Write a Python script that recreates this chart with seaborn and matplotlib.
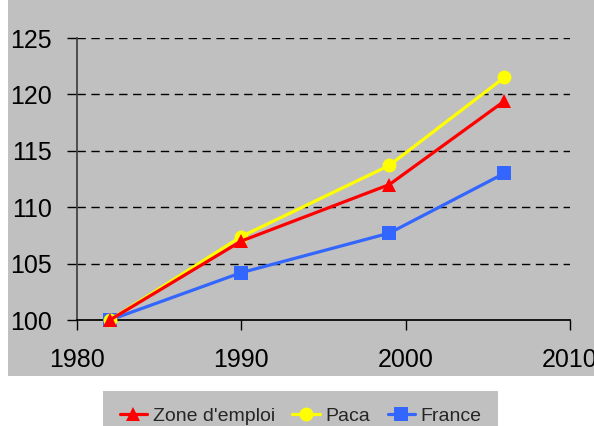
import matplotlib
matplotlib.use("Agg")
import matplotlib.pyplot as plt
import seaborn as sns
import pandas as pd
from matplotlib.patches import Rectangle
from matplotlib.lines import Line2D

years = [1982, 1990, 1999, 2006]
zone_emploi = [100, 107.0, 112.0, 119.4]
paca = [100, 107.4, 113.7, 121.5]
france = [100, 104.2, 107.7, 113.0]

series_names = ["Zone d'emploi", "Paca", "France"]
series_colors = {"Zone d'emploi": "#FF0000", "Paca": "#FFFF00", "France": "#3366FF"}
series_markers = {"Zone d'emploi": "^", "Paca": "o", "France": "s"}

df = pd.DataFrame({
    "year": years * 3,
    "value": zone_emploi + paca + france,
    "series": [n for n in series_names for _ in years],
})

sns.set_theme(style="white")
plt.rcParams["font.family"] = ["Liberation Sans", "DejaVu Sans"]

fig = plt.figure(figsize=(5.94, 4.26), dpi=100)
fig.patch.set_facecolor("white")
# gray chart area behind the axes
fig.patches.append(Rectangle((8 / 594, 50 / 426), 1.0, 413 / 426, transform=fig.transFigure,
                             facecolor="#C0C0C0", edgecolor="none", zorder=-5))

ax = fig.add_axes([77 / 594, 106 / 426, 493 / 594, 282 / 426])
ax.set_facecolor("#C0C0C0")

# draw in reverse so the first series sits on top
for name in reversed(series_names):
    sns.lineplot(data=df[df["series"] == name], x="year", y="value", ax=ax,
                 color=series_colors[name], marker=series_markers[name],
                 markersize=10, markeredgewidth=0, linewidth=2.3, legend=False,
                 clip_on=False, zorder=3)

ax.set_xlim(1980, 2010)
ax.set_ylim(100, 125)
ax.set_xticks([1980, 1990, 2000, 2010])
ax.set_yticks([100, 105, 110, 115, 120, 125])
ax.set_xlabel("")
ax.set_ylabel("")
for y in [105, 110, 115, 120, 125]:
    ax.axhline(y, color="black", linewidth=1, linestyle=(0, (6, 4)), zorder=1)

for side in ["top", "right"]:
    ax.spines[side].set_visible(False)
ax.spines["left"].set_color("#404040")
ax.spines["bottom"].set_color("black")
ax.tick_params(axis="both", direction="out", length=7, width=1, colors="black",
               labelsize=18, left=True, bottom=True)
ax.tick_params(axis="y", pad=11)
ax.tick_params(axis="x", pad=13)

handles = [Line2D([], [], color=series_colors[n], marker=series_markers[n], markersize=10,
                  markeredgewidth=0, linewidth=2.3) for n in series_names]
leg = fig.legend(handles, series_names, ncol=3, loc="upper left",
                 bbox_to_anchor=(103 / 594, 35 / 426), borderaxespad=0, fontsize=14,
                 frameon=True, fancybox=False, handlelength=1.4, handletextpad=0.3,
                 columnspacing=0.9, borderpad=0.85)
leg.get_frame().set_facecolor("#C0C0C0")
leg.get_frame().set_edgecolor("none")
leg.get_frame().set_alpha(1)

fig.savefig("out.png", dpi=100)
